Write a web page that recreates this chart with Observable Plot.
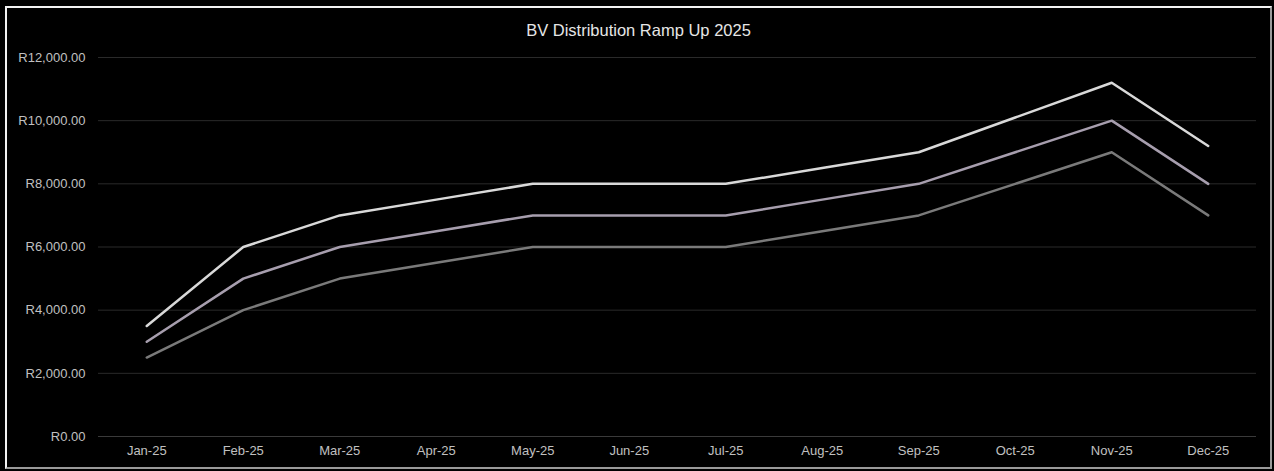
<!DOCTYPE html>
<html>
<head>
<meta charset="utf-8">
<script src="https://cdn.jsdelivr.net/npm/d3@7"></script>
<script src="https://cdn.jsdelivr.net/npm/@observablehq/plot@0.6"></script>
<style>
  html, body { margin: 0; padding: 0; background: #000; }
  body { width: 1274px; height: 471px; position: relative; overflow: hidden; font-family: "Liberation Sans", Arial, sans-serif; }
  #frame {
    position: absolute; left: 5px; top: 6px; width: 1263px; height: 459px;
    border-left: 2px solid #f2f2f2; border-top: 2px solid #f2f2f2;
    border-right: 2px solid #9a9a9a; border-bottom: 2px solid #9a9a9a;
    background: #000;
  }
  #title { height: 28px; padding-top: 8px; line-height: 28px; text-align: center; color: #e6e6e6; font-size: 16.5px; }
  #chart svg { display: block; }
</style>
</head>
<body>
<div id="frame">
  <div id="title">BV Distribution Ramp Up 2025</div>
  <div id="chart"></div>
</div>
<script>
const months = ["Jan-25","Feb-25","Mar-25","Apr-25","May-25","Jun-25","Jul-25","Aug-25","Sep-25","Oct-25","Nov-25","Dec-25"];
const seriesNames = ["High", "Mid", "Low"];
const highValues = [3500, 6000, 7000, 7500, 8000, 8000, 8000, 8500, 9000, 10100, 11200, 9200];
const midValues  = [3000, 5000, 6000, 6500, 7000, 7000, 7000, 7500, 8000, 9000, 10000, 8000];
const lowValues  = [2500, 4000, 5000, 5500, 6000, 6000, 6000, 6500, 7000, 8000, 9000, 7000];
const yTicks = [0, 2000, 4000, 6000, 8000, 10000, 12000];
const colors = ["#d9d9d9", "#a79eae", "#7a7a7a"];

const allValues = [highValues, midValues, lowValues];
const data = [];
seriesNames.forEach((s, i) => months.forEach((m, j) => data.push({series: s, month: m, value: allValues[i][j]})));

const fmt = v => "R" + d3.format(",.2f")(v);

const plot = Plot.plot({
  width: 1263,
  height: 423,
  marginTop: 13,
  marginBottom: 31,
  marginLeft: 91,
  marginRight: 14,
  style: { background: "#000", color: "#c0c0c0", fontSize: "13px", fontFamily: "'Liberation Sans', Arial, sans-serif" },
  x: { type: "point", domain: months, padding: 0.5, round: false, label: null },
  y: { domain: [0, 12000], label: null },
  color: { domain: seriesNames, range: colors },
  marks: [
    Plot.ruleY(yTicks.filter(d => d > 0), { stroke: "#2a2a2a", strokeWidth: 1 }),
    Plot.ruleY([0], { stroke: "#3a3a3a", strokeWidth: 1 }),
    Plot.axisY({ ticks: yTicks, tickFormat: fmt, tickSize: 0, tickPadding: 13, label: null, fill: "#c0c0c0" }),
    Plot.axisX({ tickSize: 0, tickPadding: 9, label: null, fill: "#c0c0c0" }),
    Plot.line(data, { x: "month", y: "value", z: "series", stroke: "series", strokeWidth: 2.5, curve: "linear" })
  ]
});
document.getElementById("chart").appendChild(plot);
</script>
</body>
</html>
